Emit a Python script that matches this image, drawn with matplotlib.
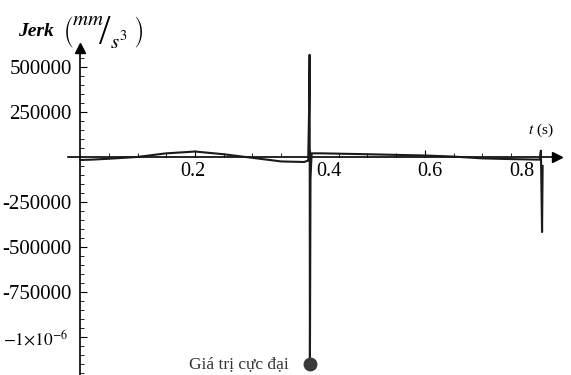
import matplotlib
matplotlib.use("Agg")
import matplotlib.pyplot as plt
import matplotlib.transforms as mtransforms

plt.rcParams["font.family"] = ["Liberation Serif", "DejaVu Serif"]
plt.rcParams["mathtext.fontset"] = "stix"

# jerk curve over time, with the two impulse spikes
t = [0.0, 0.02, 0.05, 0.1, 0.15, 0.2, 0.25, 0.3, 0.35, 0.39, 0.397,
     0.3985, 0.3995, 0.4, 0.401, 0.403, 0.42, 0.5, 0.6, 0.65, 0.7,
     0.75, 0.8, 0.802, 0.804, 0.805]
jerk = [-17000, -15000, -10000, 0, 20000, 30000, 15000, -5000, -25000,
        -28000, -20000, 250000, 567000, -1150000, -120000, 20000, 20000,
        15000, 8000, 2000, -8000, -12000, -15000, 35000, -417000, -50000]

peak_t = 0.4
peak_val = -1150000

xticks = [0.2, 0.4, 0.6, 0.8]
xtick_labels = ["0.2", "0.4", "0.6", "0.8"]
xtick_shift = [-2, 19, 5, -18]   # px, keeps labels clear of the spikes
yticks = [500000, 250000, -250000, -500000, -750000, -1000000]
ytick_labels = ["500000", "250000", "-250000", "-500000", "-750000",
                r"$-1{\times}10^{-6}$"]
ytick_shift = [0, 0, 0, 0, 0, -3]

W, H = 571, 375
fig = plt.figure(figsize=(W / 100, H / 100), dpi=100)
ax = fig.add_axes([68 / W, 0, (557 - 68) / W, 1 - 48 / H])
ax.set_xlim(-0.021, 0.83)
ax.set_ylim(-1.211e6, 0.605e6)

ax.plot(t, jerk, color="#1a1a1a", lw=1.5, clip_on=False, zorder=3)
ax.plot([peak_t], [peak_val], "o", color="#3a3a3a", ms=9, clip_on=False,
        zorder=4)
ax.text(peak_t - 0.037, peak_val, "Giá trị cực đại", fontsize=12.5,
        color="#333333", ha="right", va="center")

# axes crossing at the origin, with arrow heads
for side in ["top", "right"]:
    ax.spines[side].set_visible(False)
ax.spines["left"].set_position(("data", 0))
ax.spines["bottom"].set_position(("data", 0))
ax.spines["left"].set_linewidth(1.2)
ax.spines["bottom"].set_linewidth(1.2)
ax.plot(1, 0, ">k", ms=7, transform=ax.get_yaxis_transform(), clip_on=False)
ax.plot(0, 1, "^k", ms=7, transform=ax.get_xaxis_transform(), clip_on=False)

ax.set_xticks(xticks)
ax.set_xticklabels(xtick_labels, fontsize=14.5)
ax.set_xticks([0.05, 0.1, 0.15, 0.25, 0.3, 0.35, 0.45, 0.5, 0.55, 0.65,
               0.7, 0.75], minor=True)
ax.set_yticks(yticks)
ax.set_yticklabels(ytick_labels, fontsize=15)
ax.get_yticklabels()[-1].set_fontsize(12.5)
ax.set_yticks([v * 50000 for v in range(-24, 12) if v % 5 != 0], minor=True)
ax.tick_params(axis="x", which="major", direction="in", length=5, pad=4)
ax.tick_params(axis="y", which="major", direction="in", length=5, pad=6)
ax.tick_params(which="minor", direction="in", length=3)

for lbl, dx in zip(ax.get_xticklabels(), xtick_shift):
    off = mtransforms.ScaledTranslation(dx / 100, 0, fig.dpi_scale_trans)
    lbl.set_transform(lbl.get_transform() + off)
for lbl, dx in zip(ax.get_yticklabels(), ytick_shift):
    off = mtransforms.ScaledTranslation(dx / 100, 0, fig.dpi_scale_trans)
    lbl.set_transform(lbl.get_transform() + off)

# axis titles: "Jerk (mm / s^3)" and "t (s)"
def px(x, y):
    return x / W, 1 - y / H

fig.text(*px(18, 31), "Jerk", fontsize=14, style="italic", weight="bold",
         ha="left", va="center")
fig.text(*px(63, 32),
         r"$\left(\genfrac{}{}{0}{0}{mm\quad\;\;\;}{\qquad\; s^3}\right)$",
         fontsize=15, ha="left", va="center")
fig.text(*px(105, 34), "/", fontsize=30, ha="center", va="center")
fig.text(*px(528, 130), r"$t$ (s)", fontsize=11, ha="left", va="center")

fig.savefig("out.png", dpi=100)
